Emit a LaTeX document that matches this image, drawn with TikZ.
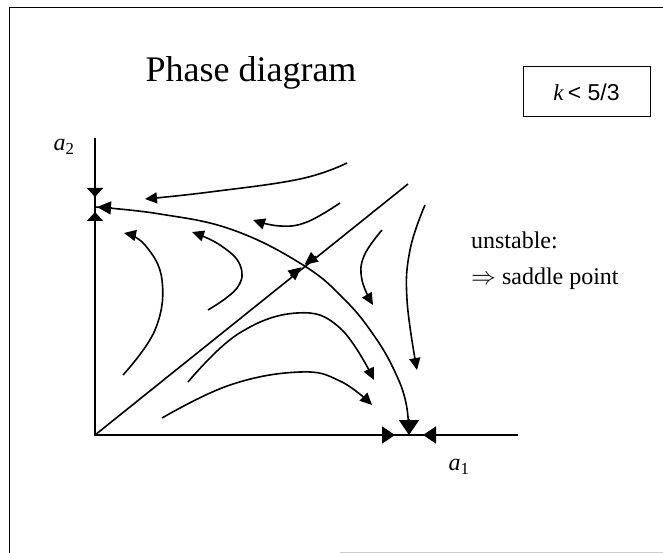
\documentclass[tikz,border=0pt]{standalone}
\usepackage{fontspec}
\setmainfont{Liberation Serif}
\setsansfont{Liberation Sans}
\usetikzlibrary{arrows.meta,calc}
\begin{document}
\begin{tikzpicture}[x=1pt,y=-1pt,line width=1.6pt,
  flow/.style={-{Triangle[length=12pt,width=11pt]}},
  tipV/.style={-{Triangle[length=9pt,width=16pt]}},
  tipL/.style={-{Triangle[length=14pt,width=13pt]}},
  tipX/.style={-{Triangle[length=13pt,width=17pt]}},
  tipD/.style={-{Triangle[length=15pt,width=20pt]}},
  tipS/.style={-{Triangle[length=13pt,width=12pt]}},
  lbl/.style={font=\fontsize{24}{28}\selectfont,anchor=base west}]
\useasboundingbox (0,0) rectangle (663,553);
% frame
\draw[line width=1pt] (9,553) -- (9,8) -- (663,8);
\draw[line width=0.6pt,gray!40] (340,552) -- (663,552);
% title and box
\node[font=\fontsize{36}{40}\selectfont,anchor=base] (title) at (251,82) {Phase diagram};
\node[draw,line width=1pt,minimum width=127pt,minimum height=50pt,inner sep=0pt,
  font=\fontsize{23}{26}\selectfont] (kbox) at (586.5,92) {\textit{k}\,{\sffamily < 5/3}};
% axes
\coordinate (org) at (95,435);
\coordinate (ytop) at (95,138);
\coordinate (xend) at (518,435);
\coordinate (fy) at (95,207);
\coordinate (fx) at (409,435);
\coordinate (dtop) at (408,184);
\coordinate (sad) at (303,266);
\draw (ytop) -- (org) -- (xend);
\node[font=\fontsize{24}{28}\selectfont] (la2) at (64,147) {\textit{a}\textsubscript{2}};
\node[font=\fontsize{24}{28}\selectfont] (la1) at (459,467) {\textit{a}\textsubscript{1}};
% diagonal
\draw (org) -- (dtop);
\draw[tipS] ($(sad)!16pt!(dtop)$) -- ($(sad)!2pt!(dtop)$);
\draw[tipS] ($(sad)!16pt!(org)$) -- ($(sad)!2pt!(org)$);
% separatrix
\draw plot[smooth,tension=0.7] coordinates {(95,207) (160,214) (233,230) (303,265) (345,300) (375,337) (395,372) (406,403) (409,435)};
% fixed-point arrowheads
\draw[tipV] (95,188) -- (95,197);
\draw[tipV] (95,221) -- (95,212);
\draw[tipL] (112,208) -- (97,207);
\draw[tipD] (409,419) -- (409,435);
\draw[tipX] (381,435) -- (395,435);
\draw[tipX] (437,435) -- (423,435);
% flow lines
\draw[flow] plot[smooth,tension=0.7] coordinates {(347,163) (300,179) (210,192) (145,199)};
\draw[flow] plot[smooth,tension=0.7] coordinates {(340,203) (307,222) (280,226) (253,220)};
\draw[flow] plot[smooth,tension=0.7] coordinates {(123,375) (155,330) (162,280) (145,245) (124,233)};
\draw[flow] plot[smooth,tension=0.7] coordinates {(208,310) (237,288) (240,265) (220,245) (192,232)};
\draw[flow] plot[smooth,tension=0.7] coordinates {(382,230) (364,256) (362,280) (373,305)};
\draw[flow] plot[smooth,tension=0.7] coordinates {(425,205) (410,250) (407,300) (417,370)};
\draw[flow] plot[smooth,tension=0.7] coordinates {(188,382) (238,334) (297,313) (340,328) (374,380)};
\draw[flow] plot[smooth,tension=0.7] coordinates {(162,418) (230,385) (300,372) (340,381) (372,405)};
% text
\node[lbl] (t1) at (467,248) {unstable:};
\node[lbl] (t2) at (467,284) {$\Rightarrow$ saddle point};
\end{tikzpicture}
\end{document}
